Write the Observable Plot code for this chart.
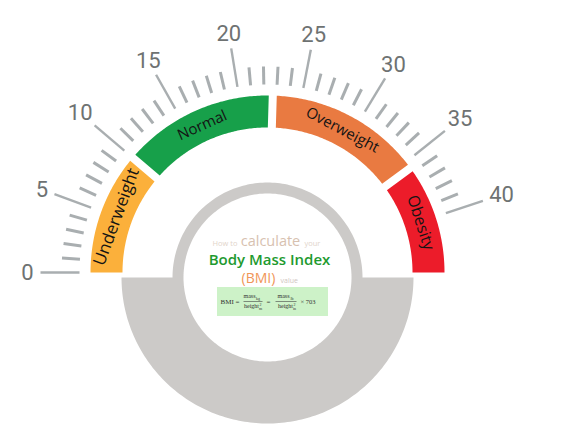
<!DOCTYPE html>
<html><head><meta charset="utf-8">
<script src="https://cdn.jsdelivr.net/npm/d3@7"></script>
<script src="https://cdn.jsdelivr.net/npm/@observablehq/plot@0.6"></script>
<style>
html,body{margin:0;padding:0;background:#fff;}
#chart svg{display:block;}
</style></head><body><div id="chart"></div>
<script>
// ---------- data ----------
const tickValues = [0,1,2,3,4,5,6,7,8,9,10,11,12,13,14,15,16,17,18,19,20,21,22,23,24,25,26,27,28,29,30,31,32,33,34,35,36,37,38,39,40];
const majorTicks = [0,5,10,15,20,25,30,35,40];
const tickLabels = ["0","5","10","15","20","25","30","35","40"];
const bandNames = ["Underweight","Normal","Overweight","Obesity"];
const bandStart = [0, 10, 22.7, 35.6];
const bandEnd   = [10, 22.7, 35.6, 45];
const introWords = ["How to", "calculate", "your"];
const titleText = "Body Mass Index";
const abbrWords = ["(BMI)", "value"];
const formulaMain = ["BMI =", "=", "× 703"];
const formulaNum = ["mass", "mass"];
const formulaNumSub = ["kg", "lb"];
const formulaDen = ["height", "height"];
const formulaDenSub = ["m", "in"];

// ---------- style / layout ----------
const bandColors = ["#fbb03b", "#17a04a", "#e97a41", "#ec1c2a"];
const bandFontSize = [17, 15, 15, 16];
const DEG_PER_UNIT = 4.04;
const R_TICK_IN = 188, R_MINOR = 206, R_MAJOR = 227;
const R_BAND_IN = 145, R_BAND_OUT = 177, GAP = 4;
const GREY_CY = -5, R_RING_IN = 84, R_RING_OUT = 95, R_BOWL = 146;
const GREY = "#cccac8";
const toRad = Math.PI / 180;
const theta = v => Math.max(0, 180 - v * DEG_PER_UNIT) * toRad;

// band polygons
const bandPts = [];
bandNames.forEach((name, i) => {
  const t0 = theta(bandStart[i]), t1 = theta(bandEnd[i]);
  const padS = t0 < Math.PI, padE = t1 > 0;
  const arc = (r, rev) => {
    const s = t0 - (padS ? GAP / r : 0), e = t1 + (padE ? GAP / r : 0);
    const pts = [];
    for (let k = 0; k <= 80; k++) { const t = s + (e - s) * k / 80; pts.push({band: name, x: r * Math.cos(t), y: r * Math.sin(t)}); }
    return rev ? pts.reverse() : pts;
  };
  bandPts.push(...arc(R_BAND_OUT, false), ...arc(R_BAND_IN, true));
});
const bandLabels = bandNames.map((name, i) => {
  const t = (theta(bandStart[i]) + theta(bandEnd[i])) / 2;
  const rm = (R_BAND_IN + R_BAND_OUT) / 2;
  return {name, x: rm * Math.cos(t), y: rm * Math.sin(t), rotate: 90 - t / toRad, size: bandFontSize[i]};
});

// grey ring + bowl
const greyPts = [];
for (let k = 0; k <= 120; k++) { const t = Math.PI * k / 120; greyPts.push({x: R_RING_OUT * Math.cos(t), y: GREY_CY + R_RING_OUT * Math.sin(t)}); }
for (let k = 0; k <= 160; k++) { const t = Math.PI + Math.PI * k / 160; greyPts.push({x: R_BOWL * Math.cos(t), y: GREY_CY + R_BOWL * Math.sin(t)}); }
const holePts = [];
for (let k = 0; k <= 200; k++) { const t = 2 * Math.PI * k / 200; holePts.push({x: R_RING_IN * Math.cos(t), y: GREY_CY + R_RING_IN * Math.sin(t)}); }

// tick data
const tickData = tickValues.map(v => ({v, major: majorTicks.includes(v)}));
const labelData = majorTicks.map((v, i) => {
  const t = theta(v), c = Math.cos(t), s = Math.sin(t);
  const w = 12 * tickLabels[i].length, h = 15.5;
  const ext = Math.min(Math.abs(c) > 1e-6 ? w / 2 / Math.abs(c) : 1e9, Math.abs(s) > 1e-6 ? h / 2 / Math.abs(s) : 1e9);
  const r = R_MAJOR + 7 + ext;
  return {label: tickLabels[i], x: r * c, y: r * s};
});

// pixel -> plot coordinates helper for annotation layout
const P = (px, py) => ({x: px - 267, y: 272 - py});
const serif = "Liberation Serif, DejaVu Serif, serif";

const marks = [
  Plot.line(greyPts, {x: "x", y: "y", fill: GREY, stroke: "none"}),
  Plot.line(holePts, {x: "x", y: "y", fill: "#ffffff", stroke: "none"}),
  Plot.line(bandPts, {x: "x", y: "y", z: "band", fill: "band", stroke: "none"}),
  Plot.text(bandLabels, {x: "x", y: "y", text: "name", rotate: "rotate", fontSize: d => d.size, fill: "#141414", fontFamily: "Open Sans", textAnchor: "middle", lineAnchor: "middle"}),
  Plot.link(tickData.filter(d => !d.major), {
    x1: d => R_TICK_IN * Math.cos(theta(d.v)), y1: d => R_TICK_IN * Math.sin(theta(d.v)),
    x2: d => R_MINOR * Math.cos(theta(d.v)), y2: d => R_MINOR * Math.sin(theta(d.v)),
    stroke: "#a9aeb0", strokeWidth: 3
  }),
  Plot.link(tickData.filter(d => d.major), {
    x1: d => R_TICK_IN * Math.cos(theta(d.v)), y1: d => R_TICK_IN * Math.sin(theta(d.v)),
    x2: d => R_MAJOR * Math.cos(theta(d.v)), y2: d => R_MAJOR * Math.sin(theta(d.v)),
    stroke: "#a9aeb0", strokeWidth: 2.4
  }),
  Plot.text(labelData, {x: "x", y: "y", text: "label", fontSize: 22, fill: "#6e7272", fontFamily: "Roboto", textAnchor: "middle", lineAnchor: "middle"}),
  // centre texts
  Plot.text([introWords[0]], {x: P(237, 0).x, y: P(0, 243).y, text: d => d, textAnchor: "end", fontSize: 7.5, fill: "#e2d4ca", fontFamily: "Open Sans"}),
  Plot.text([introWords[1]], {x: P(270, 0).x, y: P(0, 241).y, text: d => d, fontSize: 14.5, fill: "#d7c1b0", fontFamily: "Open Sans"}),
  Plot.text([introWords[2]], {x: P(304, 0).x, y: P(0, 243).y, text: d => d, textAnchor: "start", fontSize: 7.5, fill: "#e2d4ca", fontFamily: "Open Sans"}),
  Plot.text([titleText], {x: P(269, 0).x, y: P(0, 260).y, text: d => d, fontSize: 15, fontWeight: 600, fill: "#1e9a2f", fontFamily: "Open Sans"}),
  Plot.text([abbrWords[0]], {x: P(258, 0).x, y: P(0, 278).y, text: d => d, fontSize: 14, fill: "#f09658", fontFamily: "Open Sans"}),
  Plot.text([abbrWords[1]], {x: P(280, 0).x, y: P(0, 280).y, text: d => d, textAnchor: "start", fontSize: 7, fill: "#cfc6c0", fontFamily: "Open Sans"}),
  // formula box
  Plot.rect([0], {x1: P(217, 0).x, x2: P(328, 0).x, y1: P(0, 316).y, y2: P(0, 287).y, fill: "#cdf2c8"}),
  Plot.text([formulaMain[0]], {x: P(220, 0).x, y: P(0, 301).y, text: d => d, textAnchor: "start", fontSize: 7, fill: "#333", fontFamily: serif}),
  Plot.text([formulaMain[1]], {x: P(268, 0).x, y: P(0, 301).y, text: d => d, fontSize: 7, fill: "#333", fontFamily: serif}),
  Plot.text([formulaMain[2]], {x: P(300, 0).x, y: P(0, 301).y, text: d => d, textAnchor: "start", fontSize: 6.5, fill: "#333", fontFamily: serif}),
  Plot.text(formulaNum, {x: (d, i) => P(i ? 283 : 249, 0).x, y: P(0, 296).y, text: d => d, fontSize: 6, fill: "#333", fontFamily: serif}),
  Plot.text(formulaNumSub, {x: (d, i) => P(i ? 291.5 : 257.5, 0).x, y: P(0, 298).y, text: d => d, fontSize: 4, fill: "#333", fontFamily: serif}),
  Plot.text(formulaDen, {x: (d, i) => P(i ? 285 : 251, 0).x, y: P(0, 306).y, text: d => d, fontSize: 6, fill: "#333", fontFamily: serif}),
  Plot.text(formulaDenSub, {x: (d, i) => P(i ? 294 : 260, 0).x, y: P(0, 308).y, text: d => d, fontSize: 4, fill: "#333", fontFamily: serif}),
  Plot.text(["2", "2"], {x: (d, i) => P(i ? 294 : 260, 0).x, y: P(0, 304).y, text: d => d, fontSize: 4, fill: "#333", fontFamily: serif}),
  Plot.link([0, 1], {x1: (d, i) => P(i ? 275 : 243, 0).x, x2: (d, i) => P(i ? 296 : 262, 0).x, y1: P(0, 301).y, y2: P(0, 301).y, stroke: "#444", strokeWidth: 0.6})
];

const chart = Plot.plot({
  width: 561, height: 445, margin: 0,
  x: {domain: [-267, 294], range: [0, 561], axis: null},
  y: {domain: [-173, 272], range: [445, 0], axis: null},
  color: {domain: bandNames, range: bandColors},
  style: {background: "#ffffff"},
  marks
});
document.getElementById("chart").appendChild(chart);
</script>
</body></html>
